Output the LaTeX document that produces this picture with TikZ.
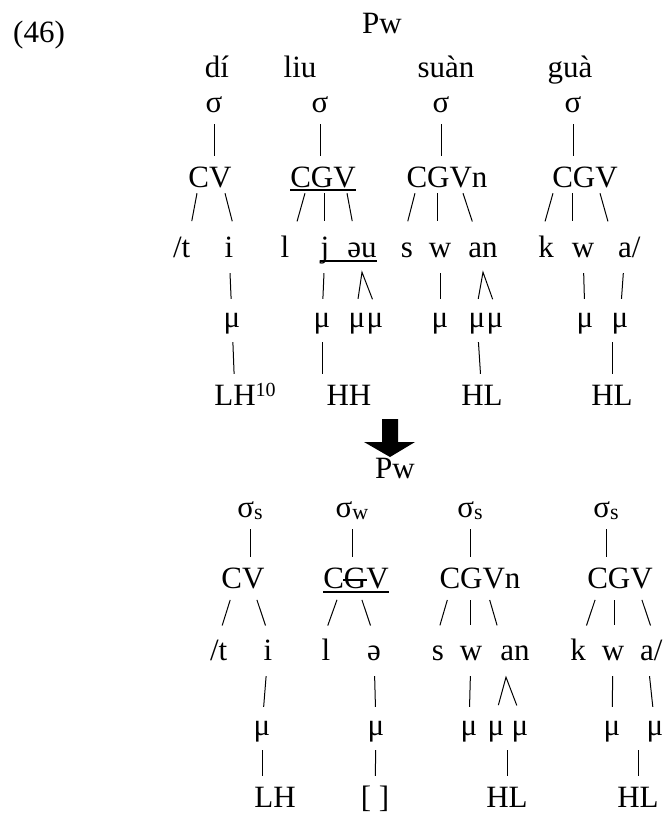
\documentclass[tikz,border=0pt]{standalone}
\usepackage{fontspec}
\setmainfont{Liberation Serif}
\newcommand\subsz[1]{\raisebox{-2pt}{\fontsize{22}{22}\selectfont #1}}
\newcommand\supsz[1]{\raisebox{9pt}{\fontsize{20}{20}\selectfont #1}}

\begin{document}
\begin{tikzpicture}[
    x=1pt, y=-1pt,
    font=\fontsize{31}{37}\selectfont,
    seg/.style={inner sep=0pt, anchor=base, minimum width=18pt, text height=21pt, text depth=6pt},
    tie/.style={line width=1pt},
    tieA/.style={tie, shorten <=6pt, shorten >=10pt},
    tieB/.style={tie, shorten >=15pt},
    tieBb/.style={tie, shorten <=6pt, shorten >=14pt},
    tieC/.style={tie, shorten <=10pt, shorten >=7pt},
    tieD/.style={tie, shorten <=9pt, shorten >=10pt},
    wedge/.style={tie, shorten <=7pt, shorten >=7pt},
    rule/.style={line width=1.3pt}
  ]
  \useasboundingbox (0,0) rectangle (666,815);

  \node[seg, anchor=base west] (exno) at (13,42) {(46)};
  \node[seg] (pw) at (382,33) {Pw};

  % input form
  \node[seg] (di)   at (217,77) {dí};
  \node[seg] (liu)  at (300,77) {liu};
  \node[seg] (suan) at (446,77) {suàn};
  \node[seg] (gua)  at (570,77) {guà};

  \node[seg] (syl1) at (214,112) {σ};
  \node[seg] (syl2) at (320,112) {σ};
  \node[seg] (syl3) at (441,112) {σ};
  \node[seg] (syl4) at (573,112) {σ};

  \node[seg] (skel1) at (210,187) {CV};
  \node[seg] (skel2) at (323,187) {CGV};
  \node[seg] (skel3) at (447,187) {CGVn};
  \node[seg] (skel4) at (585,187) {CGV};

  \node[seg] (t1)  at (186,257) {\llap{/}t};
  \node[seg] (i1)  at (229,257) {i};
  \node[seg] (l2)  at (285,257) {l};
  \node[seg] (j2)  at (325,257) {j};
  \node[seg] (eu2) at (362,257) {əu};
  \node[seg] (s3)  at (407,257) {s};
  \node[seg] (w3)  at (440,257) {w};
  \node[seg] (an3) at (483,257) {an};
  \node[seg] (k4)  at (546,257) {k};
  \node[seg] (w4)  at (583,257) {w};
  \node[seg] (a4)  at (625,257) {a\rlap{/}};

  \node[seg] (mu1)  at (232,327) {μ};
  \node[seg] (mu2)  at (322,327) {μ};
  \node[seg] (mu2a) at (357,327) {μ};
  \node[seg] (mu2b) at (375,327) {μ};
  \node[seg] (mu3)  at (440,327) {μ};
  \node[seg] (mu3a) at (477,327) {μ};
  \node[seg] (mu3b) at (495,327) {μ};
  \node[seg] (mu4a) at (585,327) {μ};
  \node[seg] (mu4b) at (620,327) {μ};

  \node[seg] (tn1) at (235,405) {LH\rlap{\supsz{10}}};
  \node[seg] (tn2) at (349,405) {HH};
  \node[seg] (tn3) at (482,405) {HL};
  \node[seg] (tn4) at (612,405) {HL};

  \draw[tieA] (syl1) -- (syl1 |- skel1.north);
  \draw[tieA] (syl2) -- (syl2 |- skel2.north);
  \draw[tieA] (syl3) -- (syl3 |- skel3.north);
  \draw[tieA] (syl4) -- (syl4 |- skel4.north);

  \draw[tieB] ([xshift=-13pt]skel1.south) -- ([xshift=3pt]t1.north);
  \draw[tieB] ([xshift=15pt]skel1.south) -- ([xshift=7pt]i1.north);
  \draw[tieB] ([xshift=-18pt]skel2.south) -- ([xshift=8pt]l2.north);
  \draw[tieB] ([xshift=1pt]skel2.south) -- ([xshift=-1pt]j2.north);
  \draw[tieB] ([xshift=24pt]skel2.south) -- ([xshift=-7pt]eu2.north);
  \draw[tieB] ([xshift=-32pt]skel3.south) -- ([xshift=-3pt]s3.north);
  \draw[tieB] ([xshift=-10pt]skel3.south) -- ([xshift=-3pt]w3.north);
  \draw[tieB] ([xshift=16pt]skel3.south) -- ([xshift=-6pt]an3.north);
  \draw[tieB] ([xshift=-32pt]skel4.south) -- ([xshift=-5pt]k4.north);
  \draw[tieB] ([xshift=-13pt]skel4.south) -- ([xshift=-11pt]w4.north);
  \draw[tieB] ([xshift=15pt]skel4.south) -- ([xshift=-13pt]a4.north);

  \draw[tieC] (i1) -- (mu1);
  \draw[tieC] (j2) -- (mu2);
  \draw[wedge] (mu2a.north) -- ([yshift=-9pt]eu2.south) -- (mu2b.north);
  \draw[tieC] (w3) -- (mu3);
  \draw[wedge] (mu3a.north) -- ([yshift=-9pt]an3.south) -- (mu3b.north);
  \draw[tieC] (w4) -- (mu4a);
  \draw[tieC] (a4) -- (mu4b);

  \draw[tieD] (mu1) -- (tn1);
  \draw[tieD] (mu2) -- (mu2 |- tn2.north);
  \draw[tieD] (mu3a) -- (tn3);
  \draw[tieD] (tn4 |- mu4a.south) -- (tn4);

  \draw[rule] ([yshift=-3pt]skel2.base west) -- ([yshift=-3pt]skel2.base east);
  \draw[rule] ([xshift=-5pt,yshift=-4pt]j2.base) -- ([yshift=-4pt]eu2.base east);

  % derivation arrow
  \fill (382,419) -- (398,419) -- (398,442) -- (415,442) -- (390,457) -- (364,442) -- (382,442) -- cycle;

  % output form
  \node[seg] (bpw) at (395,478) {Pw};

  \node[seg] (bsyl1) at (250,517) {σ\subsz{s}};
  \node[seg] (bsyl2) at (352,517) {σ\subsz{w}};
  \node[seg] (bsyl3) at (470,517) {σ\subsz{s}};
  \node[seg] (bsyl4) at (606,517) {σ\subsz{s}};

  \node[seg] (bskel1) at (243,588) {CV};
  \node[seg] (bskel2) at (356,588) {CGV};
  \node[seg] (bskel3) at (480,588) {CGVn};
  \node[seg] (bskel4) at (620,588) {CGV};

  \node[seg] (bt1)  at (223,660) {\llap{/}t};
  \node[seg] (bi1)  at (268,660) {i};
  \node[seg] (bl2)  at (326,660) {l};
  \node[seg] (be2)  at (374,660) {ə};
  \node[seg] (bs3)  at (438,660) {s};
  \node[seg] (bw3)  at (471,660) {w};
  \node[seg] (ban3) at (515,660) {an};
  \node[seg] (bk4)  at (578,660) {k};
  \node[seg] (bw4)  at (613,660) {w};
  \node[seg] (ba4)  at (647,660) {a\rlap{/}};

  \node[seg] (bmu1)  at (262,735) {μ};
  \node[seg] (bmu2)  at (376,735) {μ};
  \node[seg] (bmu3)  at (469,735) {μ};
  \node[seg] (bmu3a) at (496,735) {μ};
  \node[seg] (bmu3b) at (520,735) {μ};
  \node[seg] (bmu4a) at (612,735) {μ};
  \node[seg] (bmu4b) at (655,735) {μ};

  \node[seg] (btn1) at (275,807) {LH};
  \node[seg] (btn2) at (375,807) {[ ]};
  \node[seg] (btn3) at (507,807) {HL};
  \node[seg] (btn4) at (638,807) {HL};

  \draw[tieA] (bsyl1) -- (bsyl1 |- bskel1.north);
  \draw[tieA] (bsyl2) -- (bsyl2 |- bskel2.north);
  \draw[tieA] (bsyl3) -- (bsyl3 |- bskel3.north);
  \draw[tieA] (bsyl4) -- (bsyl4 |- bskel4.north);

  \draw[tieBb] ([xshift=-11pt]bskel1.south) -- ([xshift=-5pt]bt1.north);
  \draw[tieBb] ([xshift=12pt]bskel1.south) -- ([xshift=2pt]bi1.north);
  \draw[tieBb] ([xshift=-17pt]bskel2.south) -- ([xshift=-3pt]bl2.north);
  \draw[tieBb] ([xshift=4pt]bskel2.south) -- ([xshift=1pt]be2.north);
  \draw[tieBb] ([xshift=-31pt]bskel3.south) -- ([xshift=-2pt]bs3.north);
  \draw[tieBb] ([xshift=-10pt]bskel3.south) -- ([xshift=-1pt]bw3.north);
  \draw[tieBb] ([xshift=8pt]bskel3.south) -- ([xshift=-14pt]ban3.north);
  \draw[tieBb] ([xshift=-23pt]bskel4.south) -- ([xshift=4pt]bk4.north);
  \draw[tieBb] ([xshift=-6pt]bskel4.south) -- ([xshift=1pt]bw4.north);
  \draw[tieBb] ([xshift=20pt]bskel4.south) -- ([xshift=8pt]ba4.north);

  \draw[tieC] (bi1) -- (bmu1);
  \draw[tieC] (be2) -- (bmu2);
  \draw[tieC] (bw3) -- (bmu3);
  \draw[wedge, shorten <=9pt, shorten >=9pt] (bmu3a.north) -- ([xshift=-9pt,yshift=-11pt]ban3.south) -- (bmu3b.north);
  \draw[tieC] (bw4) -- (bmu4a);
  \draw[tieC] (ba4) -- (bmu4b);

  \draw[tieD] (bmu1) -- (bmu1 |- btn1.north);
  \draw[tieD] (bmu2) -- (btn2);
  \draw[tieD] (btn3 |- bmu3b.south) -- (btn3);
  \draw[tieD] (btn4 |- bmu4a.south) -- (btn4);

  \draw[rule] ([yshift=-4pt]bskel2.base west) -- ([yshift=-4pt]bskel2.base east);
  \draw[rule] ([xshift=20pt,yshift=8pt]bskel2.base west) -- ([xshift=44pt,yshift=8pt]bskel2.base west);
\end{tikzpicture}
\end{document}
